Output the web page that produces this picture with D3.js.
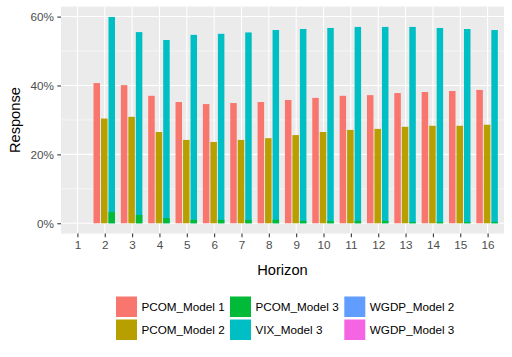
<!DOCTYPE html>
<html><head><meta charset="utf-8">
<script src="https://cdn.jsdelivr.net/npm/d3@7"></script>
<style>body{margin:0;background:#fff;}svg{display:block;font-family:Arial,"Liberation Sans",sans-serif;}</style>
</head><body>
<svg id="c" width="512" height="357"></svg>
<script>
const horizons = ["1","2","3","4","5","6","7","8","9","10","11","12","13","14","15","16"];
const seriesNames = ["PCOM_Model 1","PCOM_Model 2","PCOM_Model 3","VIX_Model 3","WGDP_Model 2","WGDP_Model 3"];
const seriesColors = ["#F8766D","#B79F00","#00BA38","#00BFC4","#619CFF","#F564E3"];
const pcom1 = [0,0.407,0.401,0.370,0.352,0.346,0.349,0.352,0.358,0.364,0.370,0.372,0.378,0.381,0.384,0.387];
const pcom2 = [0,0.304,0.309,0.265,0.242,0.236,0.242,0.247,0.256,0.265,0.271,0.274,0.280,0.283,0.283,0.286];
const pcom3 = [0,0.033,0.024,0.015,0.010,0.010,0.010,0.010,0.007,0.007,0.007,0.007,0.004,0.004,0.004,0.004];
const vix3  = [0,0.599,0.555,0.532,0.547,0.550,0.554,0.561,0.564,0.567,0.570,0.570,0.570,0.567,0.564,0.561];
const wgdp2 = [0,0,0,0,0,0,0,0,0,0,0,0,0,0,0,0];
const wgdp3 = [0,0,0,0,0,0,0,0,0,0,0,0,0,0,0,0];
const yTicks = [0,0.2,0.4,0.6];
const yMinor = [0.1,0.3,0.5];

const svg = d3.select("#c");
const L=61, R=504, T=6.6, B=233.6;
const x = d3.scalePoint().domain(horizons).range([L,R]).padding(0.6);
const y = d3.scaleLinear().domain([-0.03,0.629]).range([B,T]);
const step = x.step();

svg.append("rect").attr("x",L).attr("y",T).attr("width",R-L).attr("height",B-T).attr("fill","#EBEBEB");
svg.selectAll(".ymin").data(yMinor).enter().append("line")
  .attr("x1",L).attr("x2",R).attr("y1",d=>y(d)).attr("y2",d=>y(d)).attr("stroke","#fff").attr("stroke-width",0.53);
svg.selectAll(".ymaj").data(yTicks).enter().append("line")
  .attr("x1",L).attr("x2",R).attr("y1",d=>y(d)).attr("y2",d=>y(d)).attr("stroke","#fff").attr("stroke-width",1.07);
svg.selectAll(".xmaj").data(horizons).enter().append("line")
  .attr("x1",d=>x(d)).attr("x2",d=>x(d)).attr("y1",T).attr("y2",B).attr("stroke","#fff").attr("stroke-width",1.07);

// slots: 0 pcom1, 1 pcom2, 2 vix3 (pcom3 and wgdp overlay at slot 2)
const slotStep = 0.274*step, barW = 0.238*step;
const layers = [
  {vals:pcom1, slot:-1, c:seriesColors[0]},
  {vals:pcom2, slot:0, c:seriesColors[1]},
  {vals:vix3, slot:1, c:seriesColors[3]},
  {vals:pcom3, slot:1, c:seriesColors[2]},
  {vals:wgdp2, slot:1, c:seriesColors[4]},
  {vals:wgdp3, slot:1, c:seriesColors[5]}
];
layers.forEach(Lr=>{
  svg.append("g").selectAll("rect").data(horizons.map((h,i)=>({h,v:Lr.vals[i]})).filter(d=>d.v>0)).enter().append("rect")
    .attr("x",d=>x(d.h)-0.5+Lr.slot*slotStep-barW/2)
    .attr("width",barW)
    .attr("y",d=>y(d.v)).attr("height",d=>y(0)-y(d.v))
    .attr("fill",Lr.c);
});

// axes
const yAxis = svg.append("g").attr("transform",`translate(${L},0)`)
  .call(d3.axisLeft(y).tickValues(yTicks).tickFormat(d3.format(".0%")).tickSize(3.7).tickPadding(3.5));
const xAxis = svg.append("g").attr("transform",`translate(0,${B})`)
  .call(d3.axisBottom(x).tickSize(3.7).tickPadding(3.5));
[yAxis,xAxis].forEach(a=>{
  a.select(".domain").remove();
  a.selectAll(".tick line").attr("stroke","#333").attr("stroke-width",1.07);
  a.selectAll(".tick text").attr("fill","#4D4D4D").style("font-size","11.7px").style("font-family","Arial,'Liberation Sans',sans-serif");
});

svg.append("text").attr("x",(L+R)/2).attr("y",274.5).attr("text-anchor","middle")
  .style("font-size","14.67px").attr("fill","#000").text("Horizon");
svg.append("text").attr("transform",`translate(20,${(T+B)/2}) rotate(-90)`).attr("text-anchor","middle")
  .style("font-size","14.67px").attr("fill","#000").text("Response");

// legend (column-wise, 2 rows)
const colX = [116,230,344.3], rowY = [296.5,319.5], key=21;
seriesNames.forEach((n,i)=>{
  const c = Math.floor(i/2), r = i%2;
  const g = svg.append("g");
  g.append("rect").attr("x",colX[c]).attr("y",rowY[r]).attr("width",key).attr("height",key-0.5).attr("fill",seriesColors[i]);
  g.append("text").attr("x",colX[c]+key+4.5).attr("y",rowY[r]+key/2+4.2)
    .style("font-size","11.7px").attr("fill","#000").text(n);
});
</script>
</body></html>
